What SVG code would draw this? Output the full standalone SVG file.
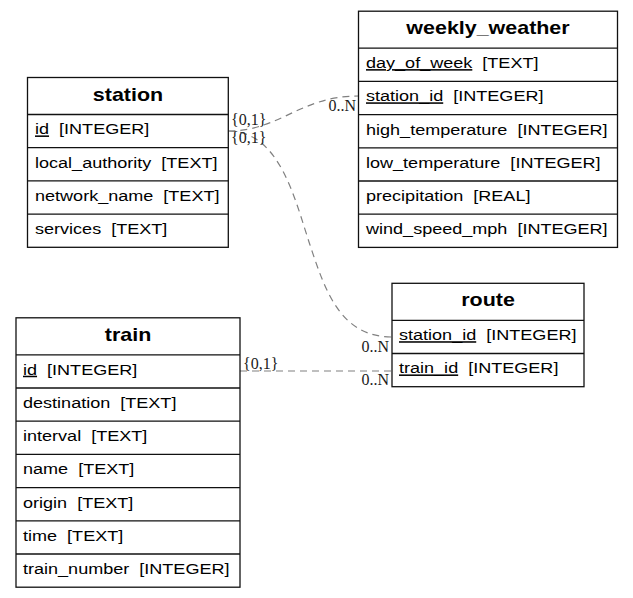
<svg xmlns="http://www.w3.org/2000/svg" width="633" height="598" viewBox="0 0 633 598" xml:space="preserve">
<style>
.box{fill:#fff;stroke:#111;stroke-width:1.3}
.ln{stroke:#111;stroke-width:1.3}
.hd{font-family:"Liberation Sans",Arial,sans-serif;font-weight:bold;font-size:18.5px;fill:#000;text-anchor:middle}
.at{font-family:"Liberation Sans",Arial,sans-serif;font-size:15.3px;fill:#000;white-space:pre}
.pk{text-decoration:underline}
.lbl{font-family:"Liberation Serif","Times New Roman",serif;font-size:16px;fill:#1a1a1a}
.edge{fill:none;stroke:#808080;stroke-width:1.2;stroke-dasharray:7,5}
</style>
<rect width="633" height="598" fill="#fff"/>
<g id="connectors">
<path class="edge" d="M228.3,131 C280,131 300,96 358.5,96"/>
<path class="edge" d="M228.3,131 C280,131 295,200 310,245 C325,290 340,337 392,337"/>
<path class="edge" d="M240,371 L392,371"/>
<text class="lbl" x="231" y="125">{0,1}</text>
<text class="lbl" x="231" y="143">{0,1}</text>
<text class="lbl" x="356" y="111" text-anchor="end">0..N</text>
<text class="lbl" x="389" y="352" text-anchor="end">0..N</text>
<text class="lbl" x="389" y="385" text-anchor="end">0..N</text>
<text class="lbl" x="243" y="369">{0,1}</text>
</g>
<g id="station">
<rect class="box" x="27.5" y="77.5" width="200.8" height="169.8"/>
<line class="ln" x1="27.5" y1="114.5" x2="228.3" y2="114.5"/>
<line class="ln" x1="27.5" y1="147.7" x2="228.3" y2="147.7"/>
<line class="ln" x1="27.5" y1="180.9" x2="228.3" y2="180.9"/>
<line class="ln" x1="27.5" y1="214.1" x2="228.3" y2="214.1"/>
<g transform="translate(128,0) scale(1.16,1)"><text class="hd" x="0" y="101.5">station</text></g>
<g transform="translate(35,0) scale(1.18,1)">
<text class="at" x="0" y="134.5"><tspan class="pk">id</tspan>  [INTEGER]</text>
<text class="at" x="0" y="167.7">local_authority  [TEXT]</text>
<text class="at" x="0" y="200.9">network_name  [TEXT]</text>
<text class="at" x="0" y="234.1">services  [TEXT]</text>
</g>
</g>
<g id="weekly_weather">
<rect class="box" x="358.5" y="11.2" width="259" height="236.2"/>
<line class="ln" x1="358.5" y1="48.2" x2="617.5" y2="48.2"/>
<line class="ln" x1="358.5" y1="81.4" x2="617.5" y2="81.4"/>
<line class="ln" x1="358.5" y1="114.6" x2="617.5" y2="114.6"/>
<line class="ln" x1="358.5" y1="147.8" x2="617.5" y2="147.8"/>
<line class="ln" x1="358.5" y1="181" x2="617.5" y2="181"/>
<line class="ln" x1="358.5" y1="214.2" x2="617.5" y2="214.2"/>
<g transform="translate(488,0) scale(1.16,1)"><text class="hd" x="0" y="34.5">weekly_weather</text></g>
<g transform="translate(366,0) scale(1.18,1)">
<text class="at" x="0" y="68.2"><tspan class="pk">day_of_week</tspan>  [TEXT]</text>
<text class="at" x="0" y="101.4"><tspan class="pk">station_id</tspan>  [INTEGER]</text>
<text class="at" x="0" y="134.6">high_temperature  [INTEGER]</text>
<text class="at" x="0" y="167.8">low_temperature  [INTEGER]</text>
<text class="at" x="0" y="201">precipitation  [REAL]</text>
<text class="at" x="0" y="234.2">wind_speed_mph  [INTEGER]</text>
</g>
</g>
<g id="route">
<rect class="box" x="392" y="283.3" width="192" height="103.4"/>
<line class="ln" x1="392" y1="320.3" x2="584" y2="320.3"/>
<line class="ln" x1="392" y1="353.5" x2="584" y2="353.5"/>
<g transform="translate(488,0) scale(1.16,1)"><text class="hd" x="0" y="306.5">route</text></g>
<g transform="translate(399,0) scale(1.18,1)">
<text class="at" x="0" y="340.3"><tspan class="pk">station_id</tspan>  [INTEGER]</text>
<text class="at" x="0" y="373.5"><tspan class="pk">train_id</tspan>  [INTEGER]</text>
</g>
</g>
<g id="train">
<rect class="box" x="16" y="317.8" width="224" height="269.4"/>
<line class="ln" x1="16" y1="354.8" x2="240" y2="354.8"/>
<line class="ln" x1="16" y1="388" x2="240" y2="388"/>
<line class="ln" x1="16" y1="421.2" x2="240" y2="421.2"/>
<line class="ln" x1="16" y1="454.4" x2="240" y2="454.4"/>
<line class="ln" x1="16" y1="487.6" x2="240" y2="487.6"/>
<line class="ln" x1="16" y1="520.8" x2="240" y2="520.8"/>
<line class="ln" x1="16" y1="554" x2="240" y2="554"/>
<g transform="translate(128,0) scale(1.16,1)"><text class="hd" x="0" y="341">train</text></g>
<g transform="translate(23,0) scale(1.18,1)">
<text class="at" x="0" y="374.8"><tspan class="pk">id</tspan>  [INTEGER]</text>
<text class="at" x="0" y="408">destination  [TEXT]</text>
<text class="at" x="0" y="441.2">interval  [TEXT]</text>
<text class="at" x="0" y="474.4">name  [TEXT]</text>
<text class="at" x="0" y="507.6">origin  [TEXT]</text>
<text class="at" x="0" y="540.8">time  [TEXT]</text>
<text class="at" x="0" y="574">train_number  [INTEGER]</text>
</g>
</g>
</svg>
